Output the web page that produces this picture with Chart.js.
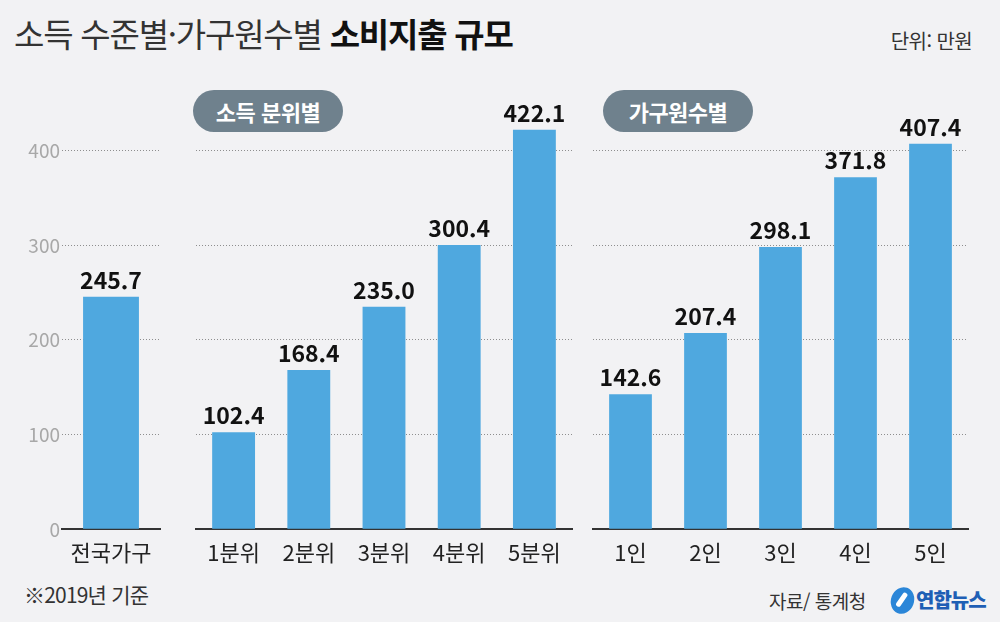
<!DOCTYPE html>
<html lang="ko">
<head>
<meta charset="utf-8">
<script src="https://cdn.jsdelivr.net/npm/chart.js@4.4.1/dist/chart.umd.min.js"></script>
<style>
  html, body { margin: 0; padding: 0; }
  body { width: 1000px; height: 622px; background: #f2f2f4; position: relative; overflow: hidden;
         font-family: "Noto Sans CJK KR", "Noto Sans", sans-serif; }
  canvas { position: absolute; top: 0; }
  .abs { position: absolute; white-space: nowrap; }
  #title { left: 14px; top: 9px; font-size: 33px; color: #333; letter-spacing: -1.2px; line-height: 48px; }
  #title b { color: #111; font-weight: 700; }
  #unit { right: 28px; top: 26px; font-size: 20px; color: #333; letter-spacing: -0.6px; }
  .pill { position: absolute; top: 90px; height: 42px; width: 150px; border-radius: 21px; background: #6f818d;
          color: #fff; font-weight: 700; font-size: 22px; text-align: center; line-height: 42px; letter-spacing: -0.5px; }
  #note { left: 24px; top: 579px; font-size: 21px; color: #333; letter-spacing: -0.8px; }
  #src { left: 769px; top: 587px; font-size: 19px; color: #333; letter-spacing: -0.5px; }
  #logoIcon { left: 891px; top: 587px; width: 23px; height: 27px; border-radius: 50%; background: #2b86d8; transform: rotate(20deg); }
  #logoIcon::after { content: ""; position: absolute; left: 8px; top: 5px; width: 5px; height: 16px; border-radius: 3px; background: #fff; transform: rotate(15deg); }
  #logo { left: 916px; top: 585px; font-size: 20px; color: #1f5fb5; font-weight: 900; letter-spacing: -1px; }
</style>
</head>
<body>
<div id="title" class="abs">소득 수준별·가구원수별 <b>소비지출 규모</b></div>
<div id="unit" class="abs">단위: 만원</div>
<div class="pill" style="left:193px">소득 분위별</div>
<div class="pill" style="left:603px">가구원수별</div>
<div id="note" class="abs">※2019년 기준</div>
<div id="src" class="abs">자료/ 통계청</div>
<div id="logoIcon" class="abs"></div>
<div id="logo" class="abs">연합뉴스</div>

<canvas id="c1" width="170" height="622" style="left:0px"></canvas>
<canvas id="c2" width="400" height="622" style="left:180px"></canvas>
<canvas id="c3" width="410" height="622" style="left:580px"></canvas>

<script>
// ---- data ----
const totalLabels = ['전국가구'];
const totalValues = [245.7];
const quintileLabels = ['1분위', '2분위', '3분위', '4분위', '5분위'];
const quintileValues = [102.4, 168.4, 235.0, 300.4, 422.1];
const householdLabels = ['1인', '2인', '3인', '4인', '5인'];
const householdValues = [142.6, 207.4, 298.1, 371.8, 407.4];
const yTicks = [0, 100, 200, 300, 400];

// ---- style ----
const FONT = '"Noto Sans CJK KR", "Noto Sans", sans-serif';
const BAR = '#4fa8df';
const Y_MAX = 450;

const valueLabels = {
  id: 'valueLabels',
  afterDatasetsDraw(chart) {
    const ctx = chart.ctx;
    const meta = chart.getDatasetMeta(0);
    const vals = chart.data.datasets[0].data;
    ctx.save();
    ctx.font = '700 23px ' + FONT;
    ctx.fillStyle = '#111';
    ctx.textAlign = 'center';
    ctx.textBaseline = 'alphabetic';
    meta.data.forEach((bar, i) => {
      ctx.fillText(vals[i].toFixed(1), bar.x, bar.y - 8);
    });
    ctx.restore();
  }
};

function makeChart(id, labels, values, opts) {
  return new Chart(document.getElementById(id), {
    type: 'bar',
    data: {
      labels: labels,
      datasets: [{ data: values, backgroundColor: BAR, borderWidth: 0,
                   barPercentage: 0.57, categoryPercentage: 1.0 }]
    },
    options: {
      responsive: false,
      animation: false,
      devicePixelRatio: 1,
      layout: { padding: { top: 103.3, left: opts.padLeft, right: opts.padRight, bottom: 0 } },
      plugins: { legend: { display: false }, tooltip: { enabled: false } },
      scales: {
        x: {
          grid: { display: true, drawOnChartArea: false, drawTicks: false },
          border: { display: true, color: '#333', width: 2 },
          ticks: { color: '#222', font: { family: FONT, size: 22 }, padding: 10, maxRotation: 0 },
          afterFit: s => { s.height = 92.7; }
        },
        y: {
          min: 0, max: Y_MAX,
          afterBuildTicks: s => { s.ticks = yTicks.map(v => ({ value: v })); },
          grid: {
            drawTicks: false,
            color: c => (c.tick && c.tick.value === 0) ? 'rgba(0,0,0,0)' : '#8e8e8e',
            lineWidth: 1
          },
          border: { display: false, dash: [1, 2] },
          ticks: opts.showY
            ? { display: true, color: '#a8a8a8', font: { family: FONT, size: 19 }, padding: 2 }
            : { display: false },
          afterFit: s => { s.width = opts.showY ? 62 : 0; }
        }
      }
    },
    plugins: [valueLabels]
  });
}

makeChart('c1', totalLabels, totalValues, { padLeft: 0, padRight: 10, showY: true });
makeChart('c2', quintileLabels, quintileValues, { padLeft: 16, padRight: 8, showY: false });
makeChart('c3', householdLabels, householdValues, { padLeft: 13, padRight: 22, showY: false });
</script>
</body>
</html>
